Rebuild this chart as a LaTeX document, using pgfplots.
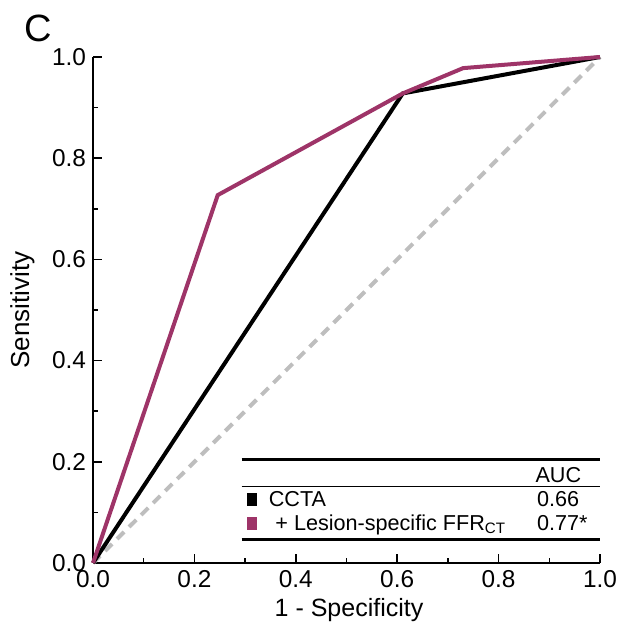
\documentclass[border=0pt]{standalone}
\usepackage{fontspec}
\setmainfont{Liberation Sans}
\usepackage{pgfplots}
\pgfplotsset{compat=1.18}
\definecolor{roc}{RGB}{158,52,104}
\definecolor{diag}{RGB}{190,190,190}
\begin{document}
\begin{tikzpicture}
\begin{axis}[
  at={(0,0)}, anchor=south west,
  scale only axis, width=253.5pt, height=253pt,
  xmin=0, xmax=1, ymin=0, ymax=1,
  axis x line*=bottom, axis y line*=left,
  axis line style={-, line width=0.75pt},
  xtick={0,0.2,...,1.0}, ytick={0,0.2,...,1.0},
  minor tick num=1,
  tick align=inside,
  major tick length=4.5pt, minor tick length=2.5pt,
  every tick/.style={black, line width=0.75pt},
  /pgf/number format/.cd, fixed, fixed zerofill, precision=1, assume math mode=true,
  /pgfplots/.cd,
  tick label style={font=\fontsize{12.2}{13}\selectfont},
  xlabel={1 - Specificity}, ylabel={Sensitivity},
  xlabel style={font=\fontsize{12.5}{13}\selectfont, at={(rel axis cs:0.505,-0.1067)}, anchor=base, inner sep=0pt},
  ylabel style={font=\fontsize{13}{14}\selectfont, at={(rel axis cs:-0.139,0.5)}, anchor=center, inner sep=0pt},
  clip=false,
]
\addplot[diag, line width=2pt, dash pattern=on 5pt off 3.5pt] coordinates {(0,0) (1,1)};
\addplot[black, line width=2pt] coordinates {(0,0) (0.611,0.928) (1,1)};
\addplot[roc, line width=2pt] coordinates {(0,0) (0.246,0.727) (0.611,0.928) (0.730,0.978) (1,1)};
% legend table
\draw[line width=1.5pt] (axis cs:0.293,0.2036) -- (axis cs:1.0,0.2036);
\draw[line width=0.6pt] (axis cs:0.293,0.151) -- (axis cs:1.0,0.151);
\draw[line width=1.5pt] (axis cs:0.293,0.0455) -- (axis cs:1.0,0.0455);
\fill[black] (axis cs:0.303,0.1126) rectangle (axis cs:0.323,0.138);
\fill[roc] (axis cs:0.303,0.0652) rectangle (axis cs:0.323,0.091);
\node[anchor=base west, inner sep=0pt, font=\fontsize{10.8}{12}\selectfont] at (axis cs:0.872,0.1587) {AUC};
\node[anchor=base west, inner sep=0pt, font=\fontsize{10.8}{12}\selectfont] at (axis cs:0.346,0.1126) {CCTA};
\node[anchor=base west, inner sep=0pt, font=\fontsize{10.8}{12}\selectfont] at (axis cs:0.359,0.064) {+ Lesion-specific FFR\textsubscript{CT}};
\node[anchor=base west, inner sep=0pt, font=\fontsize{10.8}{12}\selectfont] at (axis cs:0.875,0.1126) {0.66};
\node[anchor=base west, inner sep=0pt, font=\fontsize{10.8}{12}\selectfont] at (axis cs:0.875,0.064) {0.77*};
\node[anchor=base west, inner sep=0pt, font=\fontsize{19}{20}\selectfont] at (rel axis cs:-0.136,1.03) {C};
\end{axis}
\pgfresetboundingbox
\path (-46.5pt,-31pt) rectangle (265pt,281.5pt);
\end{tikzpicture}
\end{document}
